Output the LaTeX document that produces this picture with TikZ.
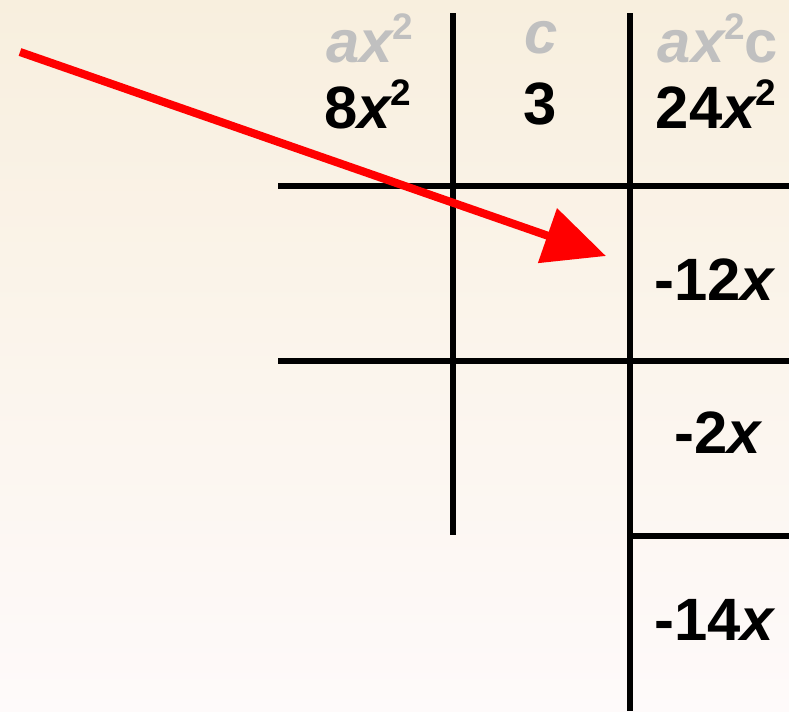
\documentclass[tikz,border=0pt]{standalone}
\usepackage{fontspec}
\setmainfont{Liberation Sans}
\usepackage{xcolor}
\usetikzlibrary{arrows.meta,positioning,calc}

\definecolor{bgtop}{HTML}{F8EFDE}
\definecolor{bgbot}{HTML}{FEFAFA}
\definecolor{hint}{HTML}{C0C0C0}

\newcommand{\sq}{\raisebox{6.5pt}{\fontsize{10.5}{11}\selectfont\upshape 2}}

\tikzset{
  gridline/.style={line width=1.9pt, black},
  term/.style={font=\fontsize{17}{19}\selectfont\bfseries, inner sep=0pt},
  hintterm/.style={term, text=hint},
}

\begin{document}
\begin{tikzpicture}[x=0.01cm,y=-0.01cm]
  % 背景
  \shade[top color=bgtop, bottom color=bgbot] (0,0) rectangle (789,711);
  \useasboundingbox (0,0) rectangle (789,711);
  % 竖线
  \draw[gridline] (453,13) -- (453,535);
  \draw[gridline] (630,13) -- (630,711);
  % 横线
  \foreach \y in {186,361} {
    \draw[gridline] (278,\y) -- (789,\y);
  }
  \draw[gridline] (630,536) -- (789,536);
  % 表头
  \node[hintterm] (hax) at (370,38) {\itshape ax\sq};
  \node[hintterm] (hc) at (541,38) {\itshape c};
  \node[hintterm] (haxc) at (718,38) {\itshape ax\sq\upshape c};
  % 数值
  \node[term] (eightx) at (368,104) {8\itshape x\sq};
  \node[term] (three) at (540,104) {3};
  \node[term] (twentyfour) at (716,104) {24\itshape x\sq};
  \node[term] (twelve) at (714,280) {-12\itshape x};
  \node[term] (two) at (718,433) {-2\itshape x};
  \node[term] (fourteen) at (714,620) {-14\itshape x};
  % 箭头
  \coordinate (start) at (20,52);
  \coordinate (tip) at (606,256);
  \draw[red, line width=2.3pt, -{Triangle[length=0.62cm,width=0.56cm]}] (start) -- (tip);
\end{tikzpicture}
\end{document}
